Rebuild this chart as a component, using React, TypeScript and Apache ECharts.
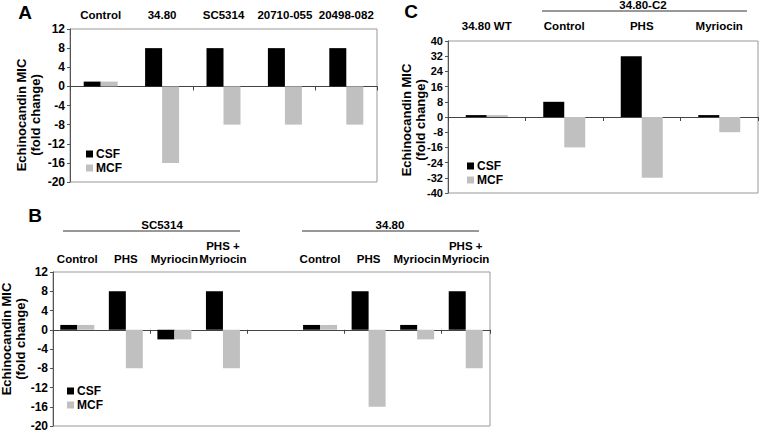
import React, { useEffect, useRef } from "react";
import * as echarts from "echarts";

const catsA = ["Control", "34.80", "SC5314", "20710-055", "20498-082"];
const csfA = [1, 8, 8, 8, 8];
const mcfA = [1, -16, -8, -8, -8];

const catsB = ["Control", "PHS", "Myriocin", "PHS +\nMyriocin", "", "Control", "PHS", "Myriocin", "PHS +\nMyriocin"];
const csfB = [1, 8, -2, 8, null, 1, 8, 1, 8];
const mcfB = [1, -8, -2, -8, null, 1, -16, -2, -8];

const catsC = ["34.80 WT", "Control", "PHS", "Myriocin"];
const csfC = [1, 8, 32, 1];
const mcfC = [1, -16, -32, -8];

const groupsB = ["SC5314", "34.80"];
const groupC = "34.80-C2";
const panelLabels = ["A", "B", "C"];
const legendNames = ["CSF", "MCF"];
const yTitle = "Echinocandin MIC\n(fold change)";

const FONT = 'Arial, "Liberation Sans", Helvetica, sans-serif';
const CSF_COLOR = "#000000";
const MCF_COLOR = "#c0c0c0";

export default function App() {
  const ref = useRef<HTMLDivElement>(null);
  useEffect(() => {
    if (!ref.current) return;
    const chart = echarts.init(ref.current, undefined, { renderer: "svg" });

    const lbl = { fontFamily: FONT, fontWeight: "bold" as const, fontSize: 11.5, color: "#000" };

    const bottomAxis = (gridIndex: number, data: string[]) => ({
      type: "category",
      gridIndex,
      data,
      position: "bottom",
      axisLine: { onZero: true, lineStyle: { color: "#444", width: 1 } },
      axisTick: { show: true, length: 4, inside: false, lineStyle: { color: "#444" } },
      axisLabel: { show: false },
      splitLine: { show: false },
    });
    const topAxis = (gridIndex: number, data: string[], margin: number) => ({
      type: "category",
      gridIndex,
      data,
      position: "top",
      axisLine: { show: false, onZero: false },
      axisTick: { show: false },
      axisLabel: { ...lbl, margin, interval: 0, lineHeight: 13, hideOverlap: false },
      splitLine: { show: false },
    });
    const yAxis = (
      gridIndex: number,
      min: number,
      max: number,
      interval: number,
      nameGap: number,
      pad: number[],
      labelSize: number
    ) => ({
      type: "value",
      gridIndex,
      min,
      max,
      interval,
      name: yTitle,
      nameLocation: "middle",
      nameRotate: 90,
      nameGap,
      nameMoveOverlap: false,
      nameTextStyle: { fontFamily: FONT, fontWeight: "bold", fontSize: 13, color: "#000", lineHeight: 14, padding: pad },
      axisLine: { show: true, lineStyle: { color: "#555" } },
      axisTick: { show: true, length: 3, lineStyle: { color: "#555" } },
      axisLabel: { ...lbl, fontSize: labelSize, margin: 5 },
      splitLine: { show: false },
    });
    const bars = (xi: number, yi: number, csf: (number | null)[], mcf: (number | null)[], w: number) => [
      {
        name: "CSF",
        type: "bar",
        xAxisIndex: xi,
        yAxisIndex: yi,
        data: csf,
        barWidth: w,
        barGap: "0%",
        itemStyle: { color: CSF_COLOR },
      },
      {
        name: "MCF",
        type: "bar",
        xAxisIndex: xi,
        yAxisIndex: yi,
        data: mcf,
        barWidth: w,
        barGap: "0%",
        itemStyle: { color: MCF_COLOR },
      },
    ];
    const legend = (left: number, top: number) => ({
      data: legendNames,
      orient: "vertical",
      left,
      top,
      padding: 0,
      itemWidth: 7,
      itemHeight: 7,
      itemGap: 2,
      icon: "rect",
      selectedMode: false,
      textStyle: { ...lbl, fontSize: 12, padding: [0, 0, 0, -2] },
    });
    const txt = (x: number, y: number, text: string, size: number) => ({
      type: "text",
      x,
      y,
      style: { text, font: `bold ${size}px ${FONT}`, fill: "#000", align: "center", verticalAlign: "middle" },
    });
    const hline = (x1: number, x2: number, y: number) => ({
      type: "line",
      shape: { x1, y1: y, x2, y2: y },
      style: { stroke: "#333", lineWidth: 1 },
    });
    const grid = (left: number, top: number, width: number, height: number) => ({
      left,
      top,
      width,
      height,
      show: true,
      borderColor: "#999",
      borderWidth: 1,
      backgroundColor: "transparent",
      containLabel: false,
      outerBoundsMode: "none",
    });

    const option = {
      animation: false,
      backgroundColor: "#fff",
      grid: [grid(70, 29, 307, 153), grid(53, 272, 437, 154), grid(448, 41, 310, 152)],
      xAxis: [
        bottomAxis(0, catsA),
        topAxis(0, catsA, 8),
        bottomAxis(1, catsB),
        topAxis(1, catsB, 7),
        bottomAxis(2, catsC),
        topAxis(2, catsC, 9),
      ],
      yAxis: [
        yAxis(0, -20, 12, 4, 28, [0, 19, 0, 0], 12),
        yAxis(1, -20, 12, 4, 26, [0, 0, 0, 20], 12),
        yAxis(2, -40, 40, 8, 21, [0, 6, 0, 0], 11),
      ],
      legend: [legend(86, 148), legend(67, 385), legend(467, 160)],
      series: [
        ...bars(0, 0, csfA, mcfA, 17),
        ...bars(2, 1, csfB, mcfB, 17),
        ...bars(4, 2, csfC, mcfC, 21),
      ],
      graphic: [
        txt(25, 12, panelLabels[0], 19),
        txt(35, 215, panelLabels[1], 19),
        txt(411, 11, panelLabels[2], 19),
        txt(643, 5, groupC, 11.5),
        hline(542, 747, 11),
        txt(162, 225, groupsB[0], 11.5),
        hline(63, 240, 231),
        txt(390, 225, groupsB[1], 11.5),
        hline(302, 479, 231),
      ],
    };
    chart.setOption(option as any);
    return () => chart.dispose();
  }, []);
  return (
    <div
      ref={ref}
      style={{ position: "fixed", left: 0, top: 0, width: 760, height: 432, background: "#fff" }}
    />
  );
}
